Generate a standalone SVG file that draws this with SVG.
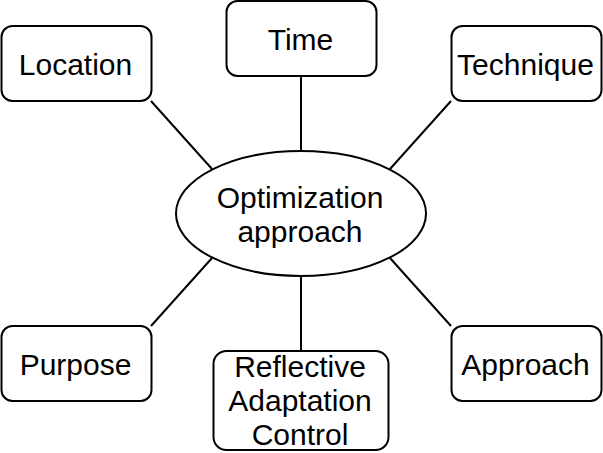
<svg xmlns="http://www.w3.org/2000/svg" width="603" height="453" viewBox="0 0 603 453">
<style>
.box{fill:#fff;stroke:#000;stroke-width:2}
.lbl{font-family:"Liberation Sans",Arial,sans-serif;font-size:30px;fill:#000;text-anchor:middle}
.conn line{stroke:#000;stroke-width:2}
</style>
<rect width="603" height="453" fill="#fff"/>
<g id="connectors" class="conn">
<line x1="151" y1="101" x2="212" y2="169"/>
<line x1="301" y1="76" x2="301" y2="151"/>
<line x1="451" y1="101" x2="390" y2="169"/>
<line x1="151" y1="326" x2="212" y2="258"/>
<line x1="301" y1="276" x2="301" y2="351"/>
<line x1="451" y1="326" x2="390" y2="258"/>
</g>
<g id="center">
<ellipse class="box" cx="301" cy="213.5" rx="125" ry="62.5"/>
<text class="lbl" x="300" y="208">Optimization</text>
<text class="lbl" x="300" y="242">approach</text>
</g>
<g id="location">
<rect class="box" x="1.5" y="26" width="150" height="75" rx="11"/>
<text class="lbl" x="75.5" y="74.5">Location</text>
</g>
<g id="time">
<rect class="box" x="226.5" y="1" width="150" height="75" rx="11"/>
<text class="lbl" x="300.5" y="49.5">Time</text>
</g>
<g id="technique">
<rect class="box" x="451.5" y="26" width="150" height="75" rx="11"/>
<text class="lbl" x="525.5" y="74.5">Technique</text>
</g>
<g id="purpose">
<rect class="box" x="1.5" y="326" width="150" height="75" rx="11"/>
<text class="lbl" x="75.5" y="374.5">Purpose</text>
</g>
<g id="reflective">
<rect class="box" x="213.5" y="351" width="175" height="99" rx="13"/>
<text class="lbl" x="300" y="377">Reflective</text>
<text class="lbl" x="300" y="411">Adaptation</text>
<text class="lbl" x="300" y="445">Control</text>
</g>
<g id="approach">
<rect class="box" x="451.5" y="326" width="150" height="75" rx="11"/>
<text class="lbl" x="525.5" y="374.5">Approach</text>
</g>
</svg>
